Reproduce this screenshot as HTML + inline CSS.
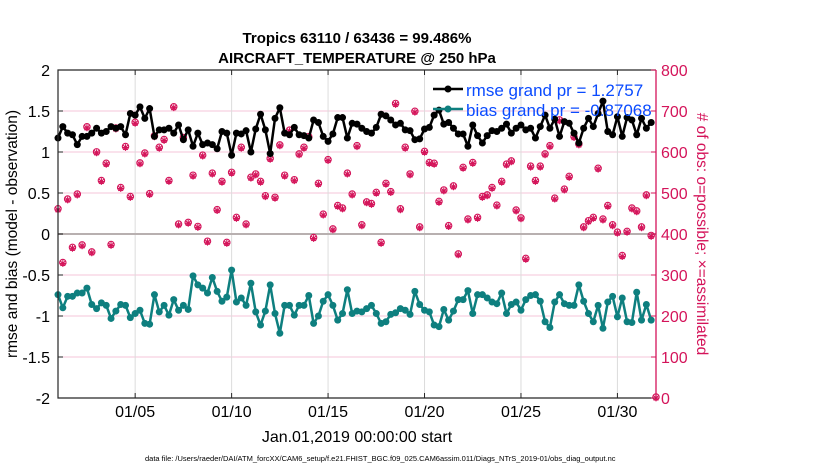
<!DOCTYPE html>
<html><head><meta charset="utf-8"><style>
html,body{margin:0;padding:0;background:#fff;}
svg{display:block;font-family:"Liberation Sans",Arial,sans-serif;}
</style></head><body>
<svg id="chart" width="830" height="470" viewBox="0 0 830 470" xmlns="http://www.w3.org/2000/svg">
<rect x="0" y="0" width="830" height="470" fill="#fff"/>
<g id="grid"></g>
<g id="series"></g>
<g id="axes"></g>
<text x="357" y="43" text-anchor="middle" font-size="15" font-weight="bold">Tropics 63110 / 63436 = 99.486%</text>
<text x="357" y="63" text-anchor="middle" font-size="15" font-weight="bold">AIRCRAFT_TEMPERATURE @ 250 hPa</text>
<text transform="translate(17,234) rotate(-90)" text-anchor="middle" font-size="15.5">rmse and bias (model - observation)</text>
<text transform="translate(697,234) rotate(90)" text-anchor="middle" font-size="15.5" fill="#d4145a"># of obs: o=possible; ×=assimilated</text>
<text x="357" y="442" text-anchor="middle" font-size="16">Jan.01,2019 00:00:00 start</text>
<text x="145" y="461" font-size="7.5">data file: /Users/raeder/DAI/ATM_forcXX/CAM6_setup/f.e21.FHIST_BGC.f09_025.CAM6assim.011/Diags_NTrS_2019-01/obs_diag_output.nc</text>
<g id="legend">
<line x1="433" y1="89" x2="463" y2="89" stroke="#000" stroke-width="2.5"/>
<circle cx="448" cy="89" r="3.5" fill="#000"/>
<text x="466" y="96" font-size="17" fill="#0a4bff">rmse grand pr = 1.2757</text>
<line x1="433" y1="109" x2="463" y2="109" stroke="#0e7f7f" stroke-width="2.5"/>
<circle cx="448" cy="109" r="3.5" fill="#0e7f7f"/>
<text x="466" y="116" font-size="17" fill="#0a4bff">bias grand pr = -0.87068</text>
</g>
</svg>
<script>
const rmse=[1.17,1.31,1.23,1.21,1.09,1.19,1.19,1.23,1.29,1.23,1.25,1.31,1.29,1.31,1.21,1.47,1.45,1.55,1.41,1.53,1.19,1.27,1.27,1.29,1.23,1.33,1.15,1.27,1.07,1.23,1.09,1.11,
1.09,1.04,1.25,1.23,0.96,1.23,1.22,1.26,1.00,1.28,1.46,1.27,0.98,1.41,1.54,1.23,1.21,1.30,1.21,1.20,1.17,1.39,1.36,1.19,1.13,1.22,1.42,1.42,1.17,1.35,1.34,
1.29,1.25,1.23,1.30,1.46,1.44,1.39,1.33,1.35,1.27,1.26,1.15,1.16,1.28,1.30,1.45,1.51,1.34,1.36,1.29,1.22,1.22,1.07,1.33,1.20,1.11,1.20,1.26,1.25,1.29,1.34,
1.23,1.29,1.33,1.27,1.29,1.17,1.31,1.45,1.29,1.40,1.19,1.37,1.35,1.23,1.11,1.29,1.41,1.31,1.47,1.62,1.25,1.21,1.43,1.19,1.42,1.39,1.21,1.41,1.29,1.36];
const bias=[-0.74,-0.90,-0.76,-0.76,-0.72,-0.72,-0.66,-0.86,-0.91,-0.84,-0.87,-1.03,-0.94,-0.86,-0.87,-1.02,-0.97,-0.93,-1.09,-1.10,-0.74,-0.95,-0.87,-0.99,-0.80,-0.93,-0.87,-0.92,-0.51,-0.62,-0.66,-0.72,
-0.53,-0.70,-0.82,-0.77,-0.44,-0.83,-0.78,-0.87,-0.60,-0.95,-1.11,-0.94,-0.62,-0.97,-1.21,-0.87,-0.87,-0.99,-0.87,-0.87,-0.75,-1.09,-1.00,-0.82,-0.74,-0.87,-1.05,-0.97,-0.68,-0.97,-0.94,
-0.95,-0.91,-0.87,-0.97,-1.09,-1.07,-0.98,-0.96,-0.91,-0.93,-0.98,-0.70,-0.86,-0.93,-0.95,-1.11,-1.13,-0.92,-1.05,-0.94,-0.80,-0.80,-0.69,-0.97,-0.74,-0.74,-0.78,-0.83,-0.85,-0.72,-0.97,
-0.86,-0.83,-0.93,-0.80,-0.75,-0.74,-0.82,-1.07,-1.14,-0.83,-0.74,-0.85,-0.87,-0.87,-0.62,-0.82,-0.97,-1.07,-0.87,-1.15,-0.83,-0.76,-1.01,-0.78,-1.07,-1.08,-0.71,-1.05,-0.86,-1.05];
const nobs=[459,328,483,365,495,371,659,354,598,528,570,372,656,511,611,489,670,571,595,496,637,609,628,528,708,422,633,426,541,416,590,380,
546,457,526,377,548,438,609,422,536,544,526,491,582,487,615,541,651,530,593,609,635,389,521,446,579,410,467,461,546,495,613,
420,476,472,499,377,521,501,716,459,609,544,697,415,599,572,570,477,505,418,515,349,560,434,572,438,489,493,511,468,526,568,
576,456,437,338,563,528,563,593,613,485,676,507,538,635,617,415,430,438,558,434,467,420,402,345,404,461,454,415,493,394,0];
const xTickLabels=["01/05","01/10","01/15","01/20","01/25","01/30"];
const xTickDays=[4,9,14,19,24,29];
const yLeftTicks=[-2,-1.5,-1,-0.5,0,0.5,1,1.5,2];
const yRightTicks=[0,100,200,300,400,500,600,700,800];

const X0=58,X1=656,Y0=70,Y1=398;
const xs=d=>X0+(d/31)*(X1-X0);
const yl=v=>Y1-(v+2)/4*(Y1-Y0);
const yr=v=>Y1-v/800*(Y1-Y0);
const NS="http://www.w3.org/2000/svg";
function mk(tag,attrs,parent){const e=document.createElementNS(NS,tag);for(const k in attrs)e.setAttribute(k,attrs[k]);parent.appendChild(e);return e;}
const grid=document.getElementById('grid'),ser=document.getElementById('series'),axes=document.getElementById('axes');
const RED="#d4145a",TEAL="#0e7f7f";

yLeftTicks.forEach(v=>{
  if(v===0||v===2||v===-2)return;
  const l=mk('line',{x1:X0,x2:X1,y1:yl(v),y2:yl(v),stroke:'#f5c6d8','stroke-width':1},grid);
  
  
});
xTickDays.forEach(d=>{
  const l=mk('line',{x1:xs(d),x2:xs(d),y1:Y0,y2:Y1,stroke:'#dcdcdc','stroke-width':1},grid);
  
  
});
const zl=mk('line',{x1:X0,x2:X1,y1:yl(0),y2:yl(0),stroke:'#b8b0b0','stroke-width':2},grid);



nobs.forEach((n,i)=>{
  const cx=xs(i*0.25),cy=yr(n);
  const g=mk('g',{},ser);
  
  
  mk('circle',{cx:cx,cy:cy-1,r:3.2,fill:'none',stroke:RED,'stroke-width':1.1},g);
  const s=3.4;
  mk('path',{d:`M${cx-s},${cy}H${cx+s}M${cx},${cy-s}V${cy+s}M${cx-2.4},${cy-2.4}L${cx+2.4},${cy+2.4}M${cx-2.4},${cy+2.4}L${cx+2.4},${cy-2.4}`,stroke:RED,'stroke-width':1.1},g);
});
function line(arr,col,name){
  const pts=arr.map((v,i)=>xs(i*0.25)+','+yl(v)).join(' ');
  const pl=mk('polyline',{points:pts,fill:'none',stroke:col,'stroke-width':2.5,'stroke-linejoin':'round'},ser);
  
  
  arr.forEach((v,i)=>{
    const c=mk('circle',{cx:xs(i*0.25),cy:yl(v),r:3.5,fill:col},ser);
    
    
  });
}
line(bias,TEAL,'bias');
line(rmse,'#000','rmse');

const fr=mk('path',{d:`M${X1},${Y0}H${X0}V${Y1}H${X1}`,fill:'none',stroke:'#262626','stroke-width':1.2},axes);


const ra=mk('line',{x1:X1,x2:X1,y1:Y0,y2:Y1,stroke:RED,'stroke-width':1.3},axes);


yLeftTicks.forEach(v=>{
  mk('line',{x1:X0,x2:X0+5,y1:yl(v),y2:yl(v),stroke:'#262626'},axes);
  const t=mk('text',{x:X0-8,y:yl(v)+6,'text-anchor':'end','font-size':16},axes);
  t.textContent=String(v);
  
  
});
yRightTicks.forEach(v=>{
  mk('line',{x1:X1-5,x2:X1,y1:yr(v),y2:yr(v),stroke:RED},axes);
  const t=mk('text',{x:X1+5,y:yr(v)+6,'font-size':16,fill:RED},axes);
  t.textContent=String(v);
  
  
});
xTickDays.forEach((d,i)=>{
  mk('line',{x1:xs(d),x2:xs(d),y1:Y1,y2:Y1-5,stroke:'#262626'},axes);
  mk('line',{x1:xs(d),x2:xs(d),y1:Y0,y2:Y0+5,stroke:'#262626'},axes);
  const t=mk('text',{x:xs(d),y:417,'text-anchor':'middle','font-size':16},axes);
  t.textContent=xTickLabels[i];
  
  
});
</script>
</body></html>
